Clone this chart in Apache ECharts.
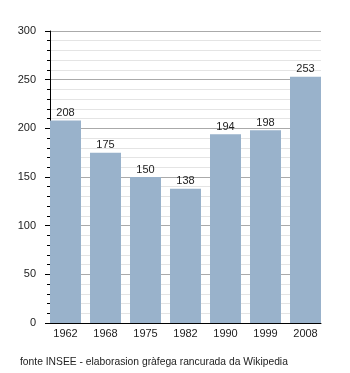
<!DOCTYPE html>
<html><head><meta charset="utf-8">
<script src="https://cdn.jsdelivr.net/npm/echarts@6/dist/echarts.min.js"></script>
<style>html,body{margin:0;padding:0;background:#fff}#c{width:350px;height:373px}</style>
</head><body><div id="c"></div>
<script>
var categories = ['1962','1968','1975','1982','1990','1999','2008'];
var population = [208,175,150,138,194,198,253];
var yMin = 0, yMax = 300, yStep = 50;
var note = 'fonte INSEE - elaborasion gràfega rancurada da Wikipedia';

var chart = echarts.init(document.getElementById('c'), null, {renderer:'canvas'});
var font = '"Liberation Sans", Arial, sans-serif';
chart.setOption({
  animation:false,
  backgroundColor:'#fff',
  textStyle:{fontFamily:font},
  grid:[
    {left:50, top:31, width:271, height:292},
    {left:45.5, top:31, width:280, height:292}
  ],
  xAxis:[
    {gridIndex:0, type:'value', min:0, max:1, axisLine:{show:true,onZero:false,lineStyle:{color:'#000',width:1}},
     axisTick:{show:false}, axisLabel:{show:false}, splitLine:{show:false}},
    {gridIndex:1, type:'category', data:categories, axisLine:{show:false}, axisTick:{show:false},
     axisLabel:{fontSize:11, color:'#222', margin:5, fontFamily:font}}
  ],
  yAxis:[
    {gridIndex:0, type:'value', min:yMin, max:yMax, interval:yStep,
     axisLine:{show:true, lineStyle:{color:'#000',width:1}},
     axisTick:{show:true, length:5, lineStyle:{color:'#000'}},
     minorTick:{show:true, splitNumber:5, length:3, lineStyle:{color:'#000'}},
     splitLine:{show:true, lineStyle:{color:'#aaaaaa',width:1}},
     minorSplitLine:{show:true, lineStyle:{color:'#e4e4e4',width:1}},
     axisLabel:{fontSize:11, color:'#222', margin:14, fontFamily:font}},
    {gridIndex:1, type:'value', min:yMin, max:yMax, show:false, splitLine:{show:false}}
  ],
  series:[{
    type:'bar', xAxisIndex:1, yAxisIndex:1, data:population, barWidth:31,
    itemStyle:{color:'#99b2cb'},
    label:{show:true, position:'top', distance:2, fontSize:11, color:'#222', fontFamily:font}
  }],
  graphic:[{type:'text', left:20, top:357, style:{text:note, fontSize:10.3, fill:'#222', fontFamily:font}}]
});
</script></body></html>
